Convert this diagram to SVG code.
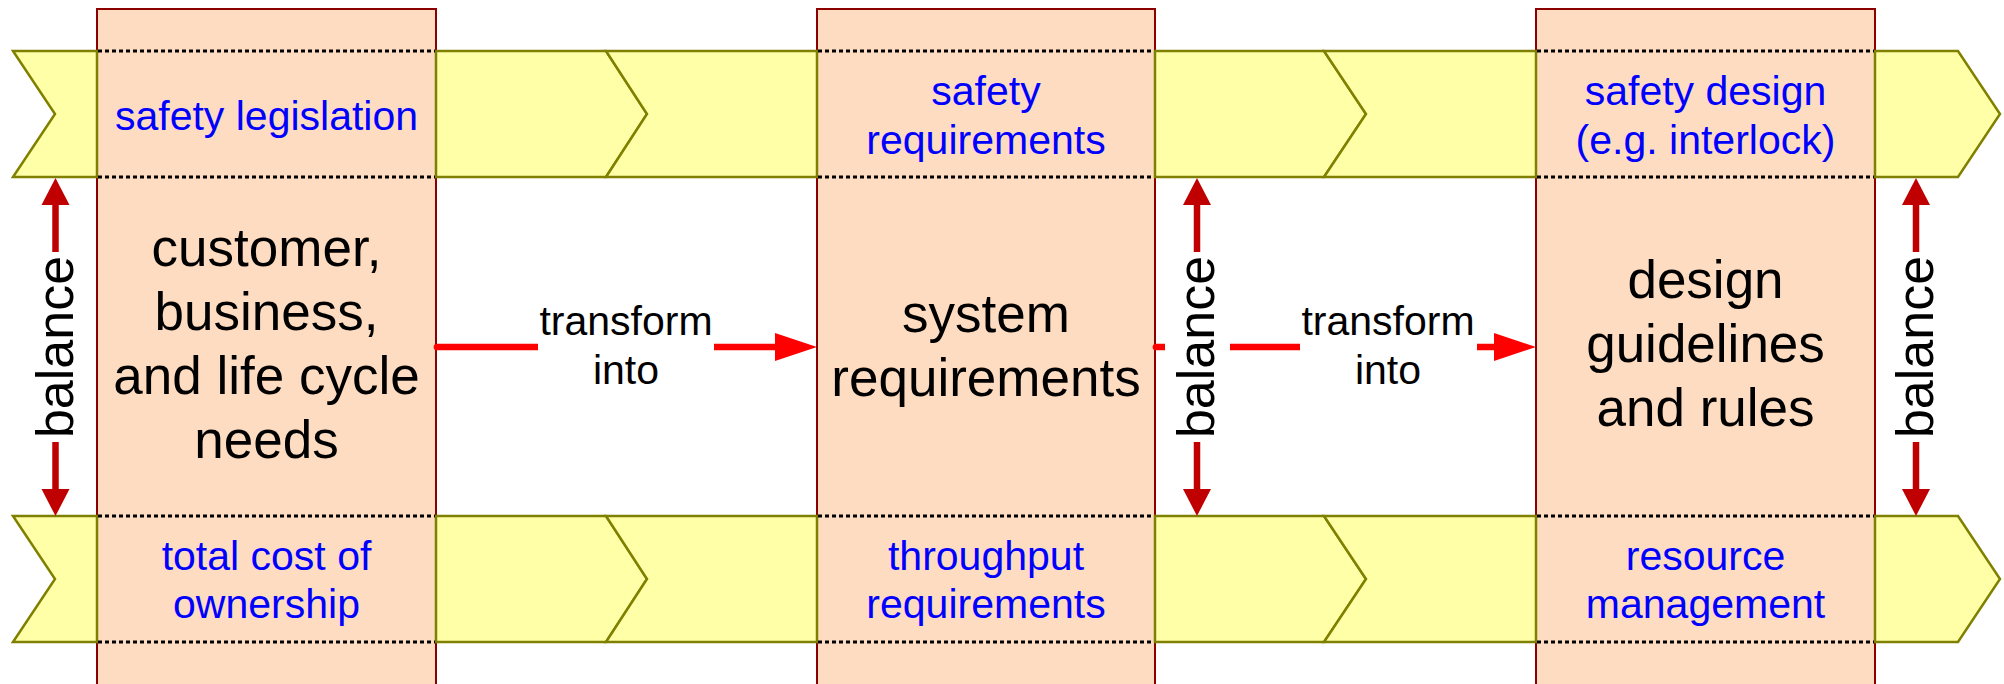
<svg xmlns="http://www.w3.org/2000/svg" width="2004" height="684" viewBox="0 0 2004 684">
<style>
.box{fill:#fddcc1;stroke:#8b0000;stroke-width:2}
.band{fill:#ffffa8;stroke:#808000;stroke-width:2.5;stroke-linejoin:miter}
.dot{stroke:#000;stroke-width:2.8;stroke-dasharray:4 3;fill:none}
.main{font-family:"Liberation Sans",Arial,sans-serif;font-size:53px;fill:#000;text-anchor:middle}
.blue{font-family:"Liberation Sans",Arial,sans-serif;font-size:41px;fill:#0000ff;text-anchor:middle}
.lbl{font-family:"Liberation Sans",Arial,sans-serif;font-size:41px;fill:#000;text-anchor:middle}
.bal{font-family:"Liberation Sans",Arial,sans-serif;font-size:52px;fill:#000;text-anchor:middle}
.tr{stroke:#ff0000;stroke-width:6.7;fill:none;stroke-linecap:round}
.ba{stroke:#c00000;stroke-width:6.5;fill:none}
.bg{fill:#fff}
</style>
<defs>
<marker id="trHead" markerUnits="userSpaceOnUse" viewBox="0 -15 43 30" markerWidth="43" markerHeight="30" refX="0" refY="0" orient="auto">
<path d="M0,-14 L42,0 L0,14 Z" fill="#ff0000"/>
</marker>
<marker id="baHead" markerUnits="userSpaceOnUse" viewBox="0 -15 28 30" markerWidth="28" markerHeight="30" refX="0" refY="0" orient="auto-start-reverse">
<path d="M0,-14 L27,0 L0,14 Z" fill="#c00000"/>
</marker>
</defs>

<g id="box1"><rect class="box" x="97" y="9" width="339" height="690"/></g>
<g id="box2"><rect class="box" x="817" y="9" width="338" height="690"/></g>
<g id="box3"><rect class="box" x="1536" y="9" width="339" height="690"/></g>

<g id="band-top">
<path class="band" d="M13,51 L97,51 L97,177 L13,177 L55,114 Z"/>
<path class="band" d="M436,51 L606,51 L647,114 L606,177 L436,177 Z"/>
<path class="band" d="M606,51 L817,51 L817,177 L606,177 L647,114 Z"/>
<path class="band" d="M1155,51 L1324,51 L1366,114 L1324,177 L1155,177 Z"/>
<path class="band" d="M1324,51 L1536,51 L1536,177 L1324,177 L1366,114 Z"/>
<path class="band" d="M1875,51 L1958,51 L2000,114 L1958,177 L1875,177 Z"/>
<line class="dot" x1="98" y1="51" x2="435" y2="51"/><line class="dot" x1="98" y1="177" x2="435" y2="177"/>
<line class="dot" x1="818" y1="51" x2="1154" y2="51"/><line class="dot" x1="818" y1="177" x2="1154" y2="177"/>
<line class="dot" x1="1537" y1="51" x2="1874" y2="51"/><line class="dot" x1="1537" y1="177" x2="1874" y2="177"/>
</g>

<g id="band-bottom">
<path class="band" d="M13,516 L97,516 L97,642 L13,642 L55,579 Z"/>
<path class="band" d="M436,516 L606,516 L647,579 L606,642 L436,642 Z"/>
<path class="band" d="M606,516 L817,516 L817,642 L606,642 L647,579 Z"/>
<path class="band" d="M1155,516 L1324,516 L1366,579 L1324,642 L1155,642 Z"/>
<path class="band" d="M1324,516 L1536,516 L1536,642 L1324,642 L1366,579 Z"/>
<path class="band" d="M1875,516 L1958,516 L2000,579 L1958,642 L1875,642 Z"/>
<line class="dot" x1="98" y1="516" x2="435" y2="516"/><line class="dot" x1="98" y1="642" x2="435" y2="642"/>
<line class="dot" x1="818" y1="516" x2="1154" y2="516"/><line class="dot" x1="818" y1="642" x2="1154" y2="642"/>
<line class="dot" x1="1537" y1="516" x2="1874" y2="516"/><line class="dot" x1="1537" y1="642" x2="1874" y2="642"/>
</g>

<g id="labels-blue">
<text class="blue" x="266.5" y="130">safety legislation</text>
<text class="blue" x="986"><tspan x="986" y="105">safety</tspan><tspan x="986" y="154">requirements</tspan></text>
<text class="blue" x="1705.5"><tspan x="1705.5" y="105">safety design</tspan><tspan x="1705.5" y="154">(e.g. interlock)</tspan></text>
<text class="blue" x="266.5"><tspan x="266.5" y="570">total cost of</tspan><tspan x="266.5" y="618">ownership</tspan></text>
<text class="blue" x="986"><tspan x="986" y="570">throughput</tspan><tspan x="986" y="618">requirements</tspan></text>
<text class="blue" x="1705.5"><tspan x="1705.5" y="570">resource</tspan><tspan x="1705.5" y="618">management</tspan></text>
</g>

<g id="connectors">
<line class="tr" x1="437" y1="347" x2="775" y2="347" marker-end="url(#trHead)"/>
<line class="tr" x1="1156" y1="347" x2="1494" y2="347" marker-end="url(#trHead)"/>
<line class="ba" x1="55.5" y1="205" x2="55.5" y2="489" marker-start="url(#baHead)" marker-end="url(#baHead)"/>
<line class="ba" x1="1197" y1="205" x2="1197" y2="489" marker-start="url(#baHead)" marker-end="url(#baHead)"/>
<line class="ba" x1="1916" y1="205" x2="1916" y2="489" marker-start="url(#baHead)" marker-end="url(#baHead)"/>
<rect class="bg" x="538" y="303" width="176" height="92"/>
<rect class="bg" x="1300" y="303" width="177" height="92"/>
<text class="lbl"><tspan x="626" y="335">transform</tspan><tspan x="626" y="384">into</tspan></text>
<text class="lbl"><tspan x="1388" y="335">transform</tspan><tspan x="1388" y="384">into</tspan></text>
<rect class="bg" x="23" y="252" width="64" height="190"/>
<rect class="bg" x="1165" y="252" width="65" height="190"/>
<rect class="bg" x="1884" y="252" width="64" height="190"/>
<text class="bal" transform="translate(55.5,347) rotate(-90)" x="0" y="17">balance</text>
<text class="bal" transform="translate(1197,347) rotate(-90)" x="0" y="17">balance</text>
<text class="bal" transform="translate(1916,347) rotate(-90)" x="0" y="17">balance</text>
</g>

<g id="text-box1"><text class="main"><tspan x="266.5" y="266">customer,</tspan><tspan x="266.5" y="330">business,</tspan><tspan x="266.5" y="394">and life cycle</tspan><tspan x="266.5" y="458">needs</tspan></text></g>
<g id="text-box2"><text class="main"><tspan x="986" y="332">system</tspan><tspan x="986" y="396">requirements</tspan></text></g>
<g id="text-box3"><text class="main"><tspan x="1705.5" y="298">design</tspan><tspan x="1705.5" y="362">guidelines</tspan><tspan x="1705.5" y="426">and rules</tspan></text></g>
</svg>
